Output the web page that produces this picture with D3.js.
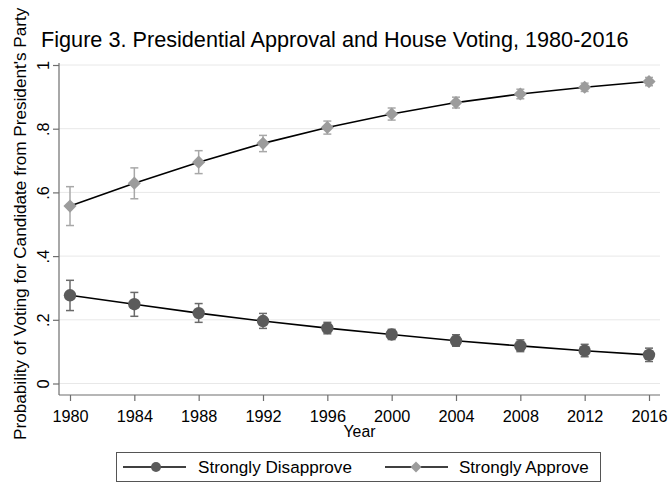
<!DOCTYPE html>
<html>
<head>
<meta charset="utf-8">
<script src="https://cdn.jsdelivr.net/npm/d3@7"></script>
<style>
  body { margin: 0; background: #fff; }
  svg text { font-family: Arial, "Liberation Sans", sans-serif; }
</style>
</head>
<body>
<svg id="chart" width="668" height="483"></svg>
<script>
// ============= Data =============
const years = [1980, 1984, 1988, 1992, 1996, 2000, 2004, 2008, 2012, 2016];
const yTicks = [0, 0.2, 0.4, 0.6, 0.8, 1];

const disapprove = [0.277, 0.249, 0.221, 0.196, 0.174, 0.154, 0.134, 0.118, 0.103, 0.090];
const disapproveLo = [0.229, 0.211, 0.192, 0.173, 0.156, 0.138, 0.117, 0.100, 0.084, 0.069];
const disapproveHi = [0.324, 0.286, 0.251, 0.220, 0.192, 0.170, 0.153, 0.137, 0.123, 0.111];

const approve = [0.557, 0.629, 0.695, 0.754, 0.804, 0.846, 0.882, 0.909, 0.930, 0.948];
const approveLo = [0.496, 0.580, 0.659, 0.728, 0.783, 0.827, 0.865, 0.894, 0.917, 0.935];
const approveHi = [0.618, 0.677, 0.731, 0.779, 0.824, 0.865, 0.899, 0.924, 0.943, 0.961];

const title = "Figure 3. Presidential Approval and House Voting, 1980-2016";
const xLabel = "Year";
const yLabel = "Probability of Voting for Candidate from President's Party";
const seriesNames = ["Strongly Disapprove", "Strongly Approve"];

// ============= Styles =============
const DARK = "#5b5b5b";
const DARK_BAR = "#6a6a6a";
const LIGHT = "#9c9c9c";
const LIGHT_BAR = "#a8a8a8";
const GRID = "#e8e8e8";
const AXIS = "#6e6e6e";
const TEXT = "#000";

const svg = d3.select("#chart");

/**
 * Sets the font size so that the text spans the given length
 */
const fitText = (sel, target) => {
  const base = 16;
  sel.style("font-size", `${base}px`);
  const len = sel.node().getComputedTextLength();
  sel.style("font-size", `${(base * target) / len}px`);
  return sel;
};

// plot region
const PLOT = { LEFT: 59, RIGHT: 660, TOP: 63, BOTTOM: 395 };

const xScale = d3.scaleLinear().domain([1980, 2016]).range([70, 649]);
const yScale = d3.scaleLinear().domain([0, 1]).range([383.5, 65]);

// grid lines
svg.append("g")
  .selectAll("line")
  .data(yTicks)
  .enter()
  .append("line")
  .attr("x1", PLOT.LEFT)
  .attr("x2", PLOT.RIGHT)
  .attr("y1", (d) => yScale(d))
  .attr("y2", (d) => yScale(d))
  .attr("stroke", GRID)
  .attr("stroke-width", 1);

// y axis
const yAxis = svg.append("g")
  .attr("transform", `translate(${PLOT.LEFT},0)`)
  .call(d3.axisLeft(yScale).tickValues(yTicks).tickSize(6).tickPadding(4)
    .tickFormat((d) => (d === 0 ? "0" : d === 1 ? "1" : d3.format(".1f")(d).replace(/^0/, ""))));
yAxis.select(".domain").attr("d", `M0,${PLOT.TOP}V${PLOT.BOTTOM}`);
yAxis.selectAll("text")
  .attr("transform", "rotate(-90)")
  .attr("x", 0)
  .attr("y", -10)
  .attr("dy", 0)
  .attr("text-anchor", "middle");

// x axis
const xAxis = svg.append("g")
  .attr("transform", `translate(0,${PLOT.BOTTOM})`)
  .call(d3.axisBottom(xScale).tickValues(years).tickFormat(d3.format("d")).tickSize(6).tickPadding(4));
xAxis.select(".domain").attr("d", `M${PLOT.LEFT},0H${PLOT.RIGHT}`);
xAxis.selectAll("text").attr("dy", 0).attr("y", 26.5);

[xAxis, yAxis].forEach((axis) => {
  axis.selectAll("path, line").attr("stroke", AXIS).attr("stroke-width", 1.2);
  axis.selectAll("text").style("font-size", "16.3px").style("fill", TEXT);
});

// titles
fitText(
  svg.append("text")
    .attr("x", 41)
    .attr("y", 47)
    .style("fill", TEXT)
    .text(title),
  588,
);

svg.append("text")
  .attr("x", xScale(1998))
  .attr("y", 437)
  .attr("text-anchor", "middle")
  .style("font-size", "15.8px")
  .style("fill", TEXT)
  .text(xLabel);

fitText(
  svg.append("text")
    .attr("transform", "translate(26,440) rotate(-90)")
    .attr("text-anchor", "start")
    .style("fill", TEXT)
    .text(yLabel),
  433,
);

// ============= Series =============
const line = d3.line()
  .x((d) => xScale(d.year))
  .y((d) => yScale(d.value));

const diamond = d3.symbol().type(d3.symbolDiamond2).size(110);

const drawSeries = (values, lo, hi, markColor, barColor, shape) => {
  const pts = years.map((year, i) => ({ year, value: values[i], lo: lo[i], hi: hi[i] }));
  const g = svg.append("g");

  // error bars
  const bars = g.selectAll(".bar").data(pts).enter().append("g")
    .attr("stroke", barColor).attr("stroke-width", 1.5);
  bars.append("line")
    .attr("x1", (d) => xScale(d.year)).attr("x2", (d) => xScale(d.year))
    .attr("y1", (d) => yScale(d.lo)).attr("y2", (d) => yScale(d.hi));
  ["lo", "hi"].forEach((k) => {
    bars.append("line")
      .attr("x1", (d) => xScale(d.year) - 4).attr("x2", (d) => xScale(d.year) + 4)
      .attr("y1", (d) => yScale(d[k])).attr("y2", (d) => yScale(d[k]));
  });

  // fitted line
  g.append("path")
    .datum(pts)
    .attr("d", line)
    .attr("fill", "none")
    .attr("stroke", "#000")
    .attr("stroke-width", 1.6);

  // markers
  if (shape === "circle") {
    g.selectAll(".pt").data(pts).enter().append("circle")
      .attr("cx", (d) => xScale(d.year))
      .attr("cy", (d) => yScale(d.value))
      .attr("r", 6.2)
      .attr("fill", markColor);
  } else {
    g.selectAll(".pt").data(pts).enter().append("path")
      .attr("d", diamond)
      .attr("transform", (d) => `translate(${xScale(d.year)},${yScale(d.value)})`)
      .attr("fill", markColor);
  }
};

drawSeries(disapprove, disapproveLo, disapproveHi, DARK, DARK_BAR, "circle");
drawSeries(approve, approveLo, approveHi, LIGHT, LIGHT_BAR, "diamond");

// ============= Legend =============
const legend = svg.append("g");
legend.append("rect")
  .attr("x", 116.5).attr("y", 452.5)
  .attr("width", 484).attr("height", 29)
  .attr("fill", "#fff")
  .attr("stroke", "#555")
  .attr("stroke-width", 1);

const legendItems = [
  { name: seriesNames[0], x0: 123, color: DARK, shape: "circle", tx: 198, len: 154 },
  { name: seriesNames[1], x0: 385, color: LIGHT, shape: "diamond", tx: 459, len: 130 },
];
const ly = 467;
legendItems.forEach((item) => {
  legend.append("line")
    .attr("x1", item.x0).attr("x2", item.x0 + 63)
    .attr("y1", ly).attr("y2", ly)
    .attr("stroke", "#000").attr("stroke-width", 1.4);
  if (item.shape === "circle") {
    legend.append("circle").attr("cx", item.x0 + 33).attr("cy", ly).attr("r", 5).attr("fill", item.color);
  } else {
    legend.append("path")
      .attr("d", d3.symbol().type(d3.symbolDiamond2).size(78))
      .attr("transform", `translate(${item.x0 + 31},${ly})`)
      .attr("fill", item.color);
  }
  fitText(
    legend.append("text")
      .attr("x", item.tx).attr("y", ly + 6)
      .style("fill", TEXT)
      .text(item.name),
    item.len,
  );
});
</script>
</body>
</html>
